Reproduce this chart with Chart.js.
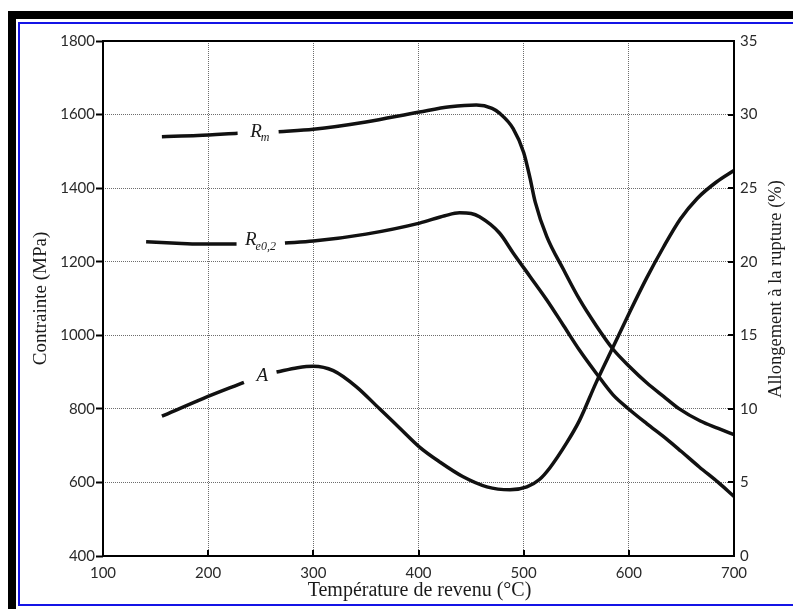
<!DOCTYPE html>
<html>
<head>
<meta charset="utf-8">
<title>Propriétés mécaniques en fonction de la température de revenu</title>
<script src="https://cdn.jsdelivr.net/npm/chart.js@4.4.1/dist/chart.umd.min.js"></script>
<style>
  html, body { margin: 0; padding: 0; background: #fff; }
  body { width: 793px; height: 609px; position: relative; overflow: hidden; }
  #bar-left { position: absolute; left: 8px; top: 11px; width: 8px; bottom: 0; background: #000; }
  #bar-top { position: absolute; left: 8px; top: 11px; right: 0; height: 8px; background: #000; }
  #frame { position: absolute; left: 18px; top: 22px; right: -5px; height: 580px;
           border-left: 2px solid #1414e6; border-top: 2px solid #1414e6; border-bottom: 2px solid #1414e6; }
  #c { position: absolute; left: 0; top: 0; }
</style>
</head>
<body>
<div id="bar-left"></div>
<div id="bar-top"></div>
<div id="frame"></div>
<canvas id="c" width="793" height="609"></canvas>
<script>
// Résistance à la traction Rm (MPa) — null marks the break around the curve name
const rmTemp = [156, 190, 228, 240, 267, 300, 350, 401, 430, 455, 470, 477, 490, 500, 506, 511, 522, 538, 553, 569, 585, 601, 617, 633, 648, 668, 685, 700];
const rmVal  = [1540, 1543, 1549, null, 1553, 1560, 1580, 1607, 1621, 1626, 1617, 1604, 1562, 1497, 1428, 1362, 1268, 1178, 1098, 1026, 962, 914, 871, 834, 800, 767, 747, 730];

// Limite d'élasticité Re0,2 (MPa)
const reTemp = [141, 170, 192, 227, 250, 273, 300, 350, 401, 425, 439, 450, 458, 477, 490, 506, 522, 538, 553, 569, 585, 601, 617, 636, 650, 667, 685, 700];
const reVal  = [1254, 1250, 1248, 1248, null, 1251, 1256, 1275, 1305, 1325, 1333, 1331, 1322, 1278, 1224, 1160, 1096, 1026, 960, 897, 838, 797, 760, 718, 684, 642, 600, 562];

// Allongement à la rupture A (%)
const aTemp = [156, 195, 234, 250, 265, 285, 300, 319, 341, 363, 382, 401, 420, 442, 465, 487, 503, 515, 525, 541, 553, 569, 585, 601, 617, 633, 649, 665, 683, 700];
const aVal  = [9.5, 10.7, 11.8, null, 12.5, 12.8, 12.9, 12.6, 11.5, 10.0, 8.7, 7.4, 6.4, 5.4, 4.7, 4.5, 4.7, 5.2, 6.0, 7.7, 9.2, 11.8, 14.2, 16.6, 18.9, 21.0, 22.9, 24.3, 25.4, 26.2];

// Axis ranges and tick steps
const tempTicks = { min: 100, max: 700, step: 100 };
const stressTicks = { min: 400, max: 1800, step: 200 };
const elongTicks = { min: 0, max: 35, step: 5 };

// Curve names written next to each curve (temperature, value, axis)
const curveNames = [
  { main: 'R', sub: 'm',    t: 240, v: 1553, axis: 'y' },
  { main: 'R', sub: 'e0,2', t: 235, v: 1258, axis: 'y' },
  { main: 'A', sub: '',     t: 246, v: 12.25, axis: 'y2' }
];

const titles = {
  x: 'Température de revenu (°C)',
  y: 'Contrainte (MPa)',
  y2: 'Allongement à la rupture (%)'
};

const toPoints = (xs, ys) => xs.map((x, i) => ({ x: x, y: ys[i] }));
const plainNumber = v => String(v);

const INK = '#111';
const GRID = 'rgba(60,60,60,0.75)';
const TICK_INK = '#2a2a2a';
const tickFont = { family: 'Lato, "Open Sans", sans-serif', size: 15 };
const serif = '"Liberation Serif", "DejaVu Serif", serif';

const lineStyle = {
  borderColor: INK,
  borderWidth: 3.5,
  pointRadius: 0,
  fill: false,
  spanGaps: false,
  cubicInterpolationMode: 'monotone',
  borderCapStyle: 'butt'
};

// Plot frame and inward tick marks on the bottom and right axes
const framePlugin = {
  id: 'frame',
  afterDatasetsDraw(chart) {
    const { ctx, chartArea: a, scales } = chart;
    ctx.save();
    ctx.strokeStyle = '#000';
    ctx.lineWidth = 2;
    ctx.strokeRect(a.left, a.top, a.right - a.left, a.bottom - a.top);
    ctx.beginPath();
    scales.x.ticks.forEach(t => {
      const px = Math.round(scales.x.getPixelForValue(t.value));
      ctx.moveTo(px, a.bottom);
      ctx.lineTo(px, a.bottom - 6);
    });
    scales.y2.ticks.forEach(t => {
      const py = Math.round(scales.y2.getPixelForValue(t.value));
      ctx.moveTo(a.right, py);
      ctx.lineTo(a.right - 6, py);
    });
    ctx.stroke();
    ctx.restore();
  }
};

// Curve names (italic, with subscripts) and axis titles
const textPlugin = {
  id: 'texts',
  afterDraw(chart) {
    const { ctx, chartArea: a, scales } = chart;
    ctx.save();
    ctx.fillStyle = '#1a1a1a';
    ctx.textBaseline = 'middle';

    curveNames.forEach(n => {
      const px = scales.x.getPixelForValue(n.t);
      const py = scales[n.axis].getPixelForValue(n.v);
      ctx.font = 'italic 19px ' + serif;
      ctx.textAlign = 'left';
      ctx.fillText(n.main, px, py);
      if (n.sub) {
        const w = ctx.measureText(n.main).width;
        ctx.font = 'italic 12px ' + serif;
        ctx.fillText(n.sub, px + w - 1, py + 6);
      }
    });

    ctx.textAlign = 'center';
    ctx.font = '20px ' + serif;
    ctx.fillText(titles.x, (a.left + a.right) / 2 + 1, 591);

    ctx.font = '19px ' + serif;
    ctx.save();
    ctx.translate(41, (a.top + a.bottom) / 2);
    ctx.rotate(-Math.PI / 2);
    ctx.fillText(titles.y, 0, 0);
    ctx.restore();

    ctx.font = '18.5px ' + serif;
    ctx.save();
    ctx.translate(776, 289);
    ctx.rotate(-Math.PI / 2);
    ctx.fillText(titles.y2, 0, 0);
    ctx.restore();

    ctx.restore();
  }
};

new Chart(document.getElementById('c'), {
  type: 'line',
  data: {
    datasets: [
      Object.assign({ label: 'Rm', data: toPoints(rmTemp, rmVal), yAxisID: 'y' }, lineStyle),
      Object.assign({ label: 'Re0,2', data: toPoints(reTemp, reVal), yAxisID: 'y' }, lineStyle),
      Object.assign({ label: 'A', data: toPoints(aTemp, aVal), yAxisID: 'y2' }, lineStyle)
    ]
  },
  options: {
    responsive: false,
    animation: false,
    devicePixelRatio: 1,
    layout: { padding: { top: 41, left: 0, right: 0, bottom: 0 } },
    plugins: { legend: { display: false }, tooltip: { enabled: false } },
    scales: {
      x: {
        type: 'linear',
        min: tempTicks.min, max: tempTicks.max,
        ticks: { stepSize: tempTicks.step, color: TICK_INK, font: tickFont, padding: 8, maxRotation: 0, callback: plainNumber },
        grid: { color: GRID, lineWidth: 1, drawTicks: false },
        border: { display: false, dash: [1, 1] },
        afterFit(s) { s.height = 53; }
      },
      y: {
        position: 'left',
        min: stressTicks.min, max: stressTicks.max,
        ticks: { stepSize: stressTicks.step, color: TICK_INK, font: tickFont, padding: 1, callback: plainNumber },
        grid: { color: GRID, lineWidth: 1, drawTicks: true, tickLength: 7, tickColor: '#000', tickWidth: 2, tickBorderDash: [] },
        border: { display: false, dash: [1, 1] },
        afterFit(s) { s.width = 103; }
      },
      y2: {
        position: 'right',
        min: elongTicks.min, max: elongTicks.max,
        ticks: { stepSize: elongTicks.step, color: TICK_INK, font: tickFont, padding: 6, callback: plainNumber },
        grid: { drawOnChartArea: false, drawTicks: false },
        border: { display: false },
        afterFit(s) { s.width = 59; }
      }
    }
  },
  plugins: [framePlugin, textPlugin]
});
</script>
</body>
</html>
